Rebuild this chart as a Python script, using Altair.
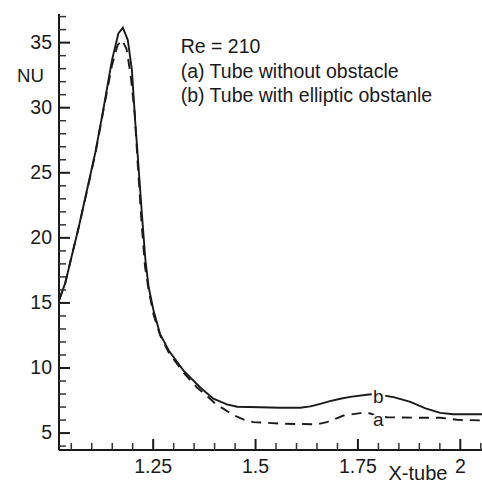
import altair as alt
import pandas as pd

# (b) Tube with elliptic obstacle (solid)
x_b = [1.020, 1.035, 1.048, 1.068, 1.092, 1.109, 1.129, 1.149, 1.165, 1.176,
       1.188, 1.198, 1.206, 1.213, 1.223, 1.231, 1.239, 1.251, 1.267, 1.288,
       1.324, 1.365, 1.397, 1.430, 1.455, 1.511, 1.560, 1.609, 1.634, 1.658,
       1.682, 1.707, 1.731, 1.772, 1.790, 1.837, 1.878, 1.915, 1.951, 1.983, 2.053]
nu_b = [15.2, 16.5, 18.2, 20.8, 24.2, 26.6, 30.0, 33.6, 35.7, 36.15,
        35.2, 32.9, 29.0, 26.0, 21.6, 18.3, 16.2, 14.4, 12.6, 11.35,
        9.8, 8.5, 7.64, 7.2, 7.02, 6.98, 6.95, 6.95, 7.05, 7.25,
        7.45, 7.64, 7.78, 7.95, 8.0, 7.76, 7.4, 6.9, 6.55, 6.45, 6.45]

# (a) Tube without obstacle (dashed)
x_a = [1.020, 1.035, 1.048, 1.068, 1.092, 1.109, 1.129, 1.149, 1.163, 1.174,
       1.185, 1.195, 1.205, 1.212, 1.222, 1.230, 1.240, 1.251, 1.267, 1.288,
       1.324, 1.357, 1.380, 1.402, 1.425, 1.446, 1.470, 1.495, 1.568, 1.650,
       1.674, 1.695, 1.715, 1.756, 1.775, 1.790, 1.821, 1.894, 1.951, 1.992, 2.053]
nu_a = [15.2, 16.5, 18.2, 20.8, 24.1, 26.5, 29.9, 33.2, 34.8, 35.2,
        34.5, 32.5, 29.5, 25.8, 21.0, 17.8, 15.8, 14.1, 12.5, 11.2,
        9.65, 8.5, 7.9, 7.25, 6.8, 6.38, 6.05, 5.84, 5.72, 5.67,
        5.84, 6.1, 6.35, 6.53, 6.55, 6.4, 6.22, 6.18, 6.18, 6.02, 5.97]

label_text = ["a", "b"]
label_x = [1.80, 1.80]
label_y = [5.58, 7.28]

annotation = ["Re = 210", "(a) Tube without obstacle", "(b) Tube with elliptic obstanle"]
x_title = "X-tube"
y_title = "NU"

x_major = [1.25, 1.5, 1.75, 2.0]
x_major_labels = ["1.25", "1.5", "1.75", "2"]
x_minor = [1.05, 1.10, 1.15, 1.20, 1.30, 1.35, 1.40, 1.45, 1.55, 1.60, 1.65,
           1.70, 1.80, 1.85, 1.90, 1.95, 2.05]
y_major = [5, 10, 15, 20, 25, 30, 35]
y_major_labels = ["5", "10", "15", "20", "25", "30", "35"]
y_minor = [4, 6, 7, 8, 9, 11, 12, 13, 14, 16, 17, 18, 19, 21, 22, 23, 24,
           26, 27, 28, 29, 31, 32, 33, 34, 36, 37]

W, H = 423, 436
FONT = "Liberation Sans"
INK = "#1a1a1a"
MAJ, MIN = 11, 7
LBL = 19.5

xs = alt.Scale(domain=[1.02, 2.053], nice=False, zero=False)
ys = alt.Scale(domain=[3.7, 37.2], nice=False, zero=False)

df_b = pd.DataFrame({"xv": x_b, "yv": nu_b})
df_a = pd.DataFrame({"xv": x_a, "yv": nu_a})
df_lab = pd.DataFrame({"xv": label_x, "yv": label_y, "t": label_text})
df_ann = pd.DataFrame({"t": ["\n".join(annotation)]})
df_xmaj = pd.DataFrame({"xv": x_major, "t": x_major_labels})
df_ymaj = pd.DataFrame({"yv": y_major, "t": y_major_labels})
df_xmaj_t = pd.DataFrame({"xt": x_major})
df_ymaj_t = pd.DataFrame({"yt": y_major})
df_xmin = pd.DataFrame({"xt": x_minor})
df_ymin = pd.DataFrame({"yt": y_minor})


def X(f="xv:Q"):
    return alt.X(f, scale=xs, axis=None)


def Y(f="yv:Q"):
    return alt.Y(f, scale=ys, axis=None)


solid = alt.Chart(df_b).mark_line(color=INK, strokeWidth=1.9, clip=True).encode(
    x=X(), y=Y())
dashed = alt.Chart(df_a).mark_line(color=INK, strokeWidth=1.9, strokeDash=[10, 7],
                                   clip=True).encode(x=X(), y=Y())

# axis lines (left and bottom)
dom_y = alt.Chart(df_ann).mark_rule(color=INK, strokeWidth=2).encode(
    x=alt.value(0), y=alt.value(0), y2=alt.value(H))
dom_x = alt.Chart(df_ann).mark_rule(color=INK, strokeWidth=2).encode(
    x=alt.value(0), x2=alt.value(W), y=alt.value(H))

# inward ticks at the tick values through the scales
xt_major = alt.Chart(df_xmaj_t).mark_tick(
    color=INK, orient="vertical", size=MAJ, thickness=2, opacity=1).encode(
    x=X("xt:Q"), y=alt.value(H - MAJ / 2))
xt_minor = alt.Chart(df_xmin).mark_tick(
    color="#333333", orient="vertical", size=MIN, thickness=1.5, opacity=1).encode(
    x=X("xt:Q"), y=alt.value(H - MIN / 2))
yt_major = alt.Chart(df_ymaj_t).mark_tick(
    color=INK, orient="horizontal", size=MAJ, thickness=2, opacity=1).encode(
    y=Y("yt:Q"), x=alt.value(MAJ / 2))
yt_minor = alt.Chart(df_ymin).mark_tick(
    color="#333333", orient="horizontal", size=MIN, thickness=1.5, opacity=1).encode(
    y=Y("yt:Q"), x=alt.value(MIN / 2))

# tick labels
xt_text = alt.Chart(df_xmaj).mark_text(
    font=FONT, fontSize=LBL, color=INK, align="center", baseline="top").encode(
    x=X(), y=alt.value(H + 8), text="t:N")
yt_text = alt.Chart(df_ymaj).mark_text(
    font=FONT, fontSize=LBL, color=INK, align="right", baseline="middle").encode(
    y=Y(), x=alt.value(-7), text="t:N")

# axis titles
xtitle = alt.Chart(pd.DataFrame({"t": [x_title]})).mark_text(
    font=FONT, fontSize=20, color=INK, align="center", baseline="alphabetic").encode(
    x=alt.value(359), y=alt.value(H + 30), text="t:N")
ytitle = alt.Chart(pd.DataFrame({"t": [y_title]})).mark_text(
    font=FONT, fontSize=18.7, color=INK, align="center", baseline="alphabetic").encode(
    x=alt.value(-28.5), y=alt.value(68), text="t:N")

# curve labels with a white halo that interrupts the lines
halo = alt.Chart(df_lab).mark_text(
    font=FONT, fontSize=19, stroke="white", strokeWidth=5, fill="white",
    align="center", baseline="alphabetic").encode(x=X(), y=Y(), text="t:N")
labels = alt.Chart(df_lab).mark_text(
    font=FONT, fontSize=19, color=INK, align="center", baseline="alphabetic").encode(
    x=X(), y=Y(), text="t:N")

ann = alt.Chart(df_ann).mark_text(
    font=FONT, fontSize=19.5, color=INK, align="left", baseline="alphabetic",
    lineBreak="\n", lineHeight=24.5).encode(
    x=alt.value(121.7), y=alt.value(39), text="t:N")

chart = alt.layer(solid, dashed, dom_y, dom_x, xt_major, xt_minor, yt_major, yt_minor,
                  xt_text, yt_text, xtitle, ytitle, halo, labels, ann).properties(
    width=W, height=H,
    padding={"left": 59, "top": 14, "right": 0, "bottom": 31},
    autosize=alt.AutoSizeParams(type="none"),
).configure_view(stroke=None)

chart.save("out.html", embed_options={"renderer": "svg", "actions": False})
